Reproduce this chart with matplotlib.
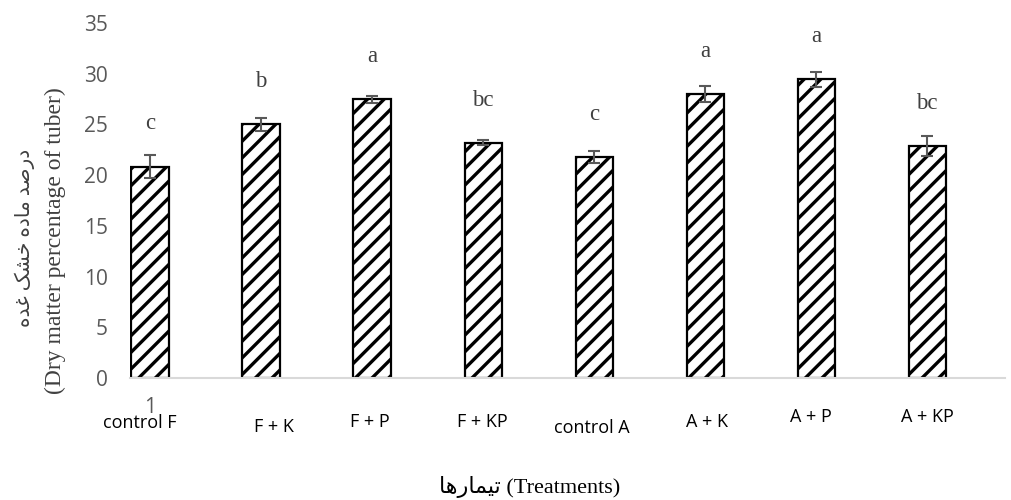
import matplotlib
matplotlib.use("Agg")
import matplotlib.pyplot as plt
import numpy as np

# ── Données ───────────────────────────────────────────────────────
treatments = ["control F", "F + K", "F + P", "F + KP", "control A", "A + K", "A + P", "A + KP"]
dry_matter = [20.85, 25.0, 27.5, 23.2, 21.8, 28.0, 29.45, 22.9]
errors     = [1.1, 0.6, 0.35, 0.25, 0.6, 0.75, 0.75, 1.0]
letters    = ["c", "b", "a", "bc", "c", "a", "a", "bc"]

# décalages (px) des étiquettes de traitement, placées à la main dans l'original
lbl_dx = [-10, 13, -2, -1, -2, 2, -5, 0]
lbl_dy = [45, 49, 44, 44, 50, 44, 39, 39]

SERIF = ["Liberation Serif", "DejaVu Sans"]
SANS  = ["Open Sans", "DejaVu Sans"]
GRIS  = "#595959"

plt.rcParams["hatch.linewidth"] = 2.4
plt.rcParams["hatch.color"] = "black"

fig = plt.figure(figsize=(10.11, 5.0), dpi=100)
ax = fig.add_axes([130/1011, 122/500, 875/1011, 355/500])

x = np.arange(len(treatments))
ax.bar(x, dry_matter, width=0.335, color="white", edgecolor="black",
       linewidth=1.6, hatch="//", zorder=2)
ax.errorbar(x, dry_matter, yerr=errors, fmt="none", ecolor=GRIS,
            elinewidth=1.5, capsize=4.5, capthick=1.5, zorder=3)

for xi, v, l in zip(x, dry_matter, letters):
    ax.text(xi, v + 4.2, l, ha="center", va="center", fontsize=16.5,
            family=SERIF, color="#404040")

for xi, t, dx, dy in zip(x, treatments, lbl_dx, lbl_dy):
    ax.annotate(t, xy=(xi, 0), xycoords="data",
                xytext=(dx*0.72, -dy*0.72), textcoords="offset points",
                ha="center", va="center", fontsize=13, family=SANS, color="black")

ax.set_xlim(-0.18, 7.7)
ax.set_ylim(0, 35)
ax.set_yticks(range(0, 36, 5))
ax.set_xticks([0])
ax.set_xticklabels(["1"])
ax.tick_params(axis="y", length=0, pad=16, labelsize=15, labelcolor=GRIS)
ax.tick_params(axis="x", length=0, pad=14, labelsize=15, labelcolor=GRIS)
for lab in ax.get_yticklabels() + ax.get_xticklabels():
    lab.set_family(SANS)

for s in ["top", "right", "left"]:
    ax.spines[s].set_visible(False)
ax.spines["bottom"].set_color("#d9d9d9")
ax.spines["bottom"].set_linewidth(1.5)

# titres d'axes (persan écrit en formes de présentation, ordre visuel)
fa_y = "\uFEE9\uFEAA\uFECF \uFB8F\uFEB8\uFEA7 \uFEE9\uFEA9\uFE8E\uFEE3 \uFEAA\uFEBB\uFEAD\uFEA9"
fa_x = "\uFE8E\uFEEB\uFEAD\uFE8E\uFEE4\uFBFF\uFE97"
fig.text(25/1011, 1 - 238/500, fa_y, rotation=90, ha="center", va="center",
         fontsize=14.5, family=SERIF, color="#404040")
fig.text(55/1011, 1 - 241/500, "(Dry matter percentage of tuber)", rotation=90,
         ha="center", va="center", fontsize=17, family=SERIF, color="#404040")
fig.text(530/1011, 1 - 487/500, fa_x + " (Treatments)", ha="center", va="center",
         fontsize=16, family=SERIF, color="black")

fig.savefig("out.png", dpi=100)
